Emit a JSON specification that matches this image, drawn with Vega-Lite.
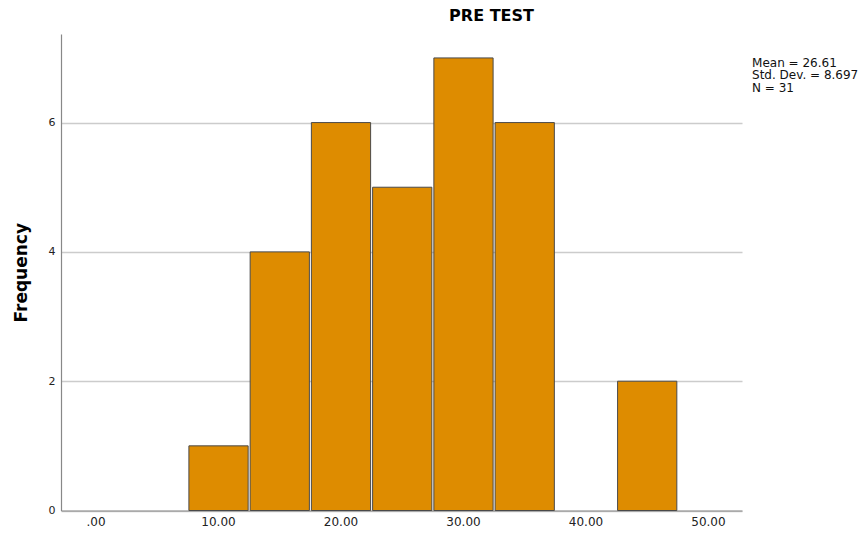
{
  "$schema": "https://vega.github.io/schema/vega-lite/v6.json",
  "width": 681,
  "height": 476.5,
  "autosize": {"type": "none"},
  "padding": {"left": 61, "top": 34, "right": 119, "bottom": 23.5},
  "background": "white",
  "config": {
    "view": {"stroke": null},
    "font": "DejaVu Sans"
  },
  "title": {
    "text": "PRE TEST",
    "fontSize": 16,
    "fontWeight": "bold",
    "font": "DejaVu Sans",
    "color": "#000000",
    "anchor": "middle",
    "dx": 90,
    "offset": 10
  },
  "layer": [
    {
      "data": {
        "values": [
          {"start": 7.5, "end": 12.5, "count": 1},
          {"start": 12.5, "end": 17.5, "count": 4},
          {"start": 17.5, "end": 22.5, "count": 6},
          {"start": 22.5, "end": 27.5, "count": 5},
          {"start": 27.5, "end": 32.5, "count": 7},
          {"start": 32.5, "end": 37.5, "count": 6},
          {"start": 42.5, "end": 47.5, "count": 2}
        ]
      },
      "mark": {"type": "bar", "color": "#DE8C00", "stroke": "#4a4a4a", "strokeWidth": 1, "binSpacing": 2},
      "encoding": {
        "x": {
          "field": "start",
          "type": "quantitative",
          "bin": "binned",
          "scale": {"domain": [-2.82, 52.78], "nice": false, "zero": false},
          "axis": {
            "values": [0, 10, 20, 30, 40, 50],
            "labelExpr": "datum.value == 0 ? '.00' : format(datum.value, '.2f')",
            "title": null,
            "grid": false,
            "ticks": false,
            "labelFontSize": 12,
            "labelColor": "#222222",
            "labelPadding": 6,
            "domainColor": "#888888",
            "domainWidth": 1.2,
            "labelFlush": false
          }
        },
        "x2": {"field": "end"},
        "y": {
          "field": "count",
          "type": "quantitative",
          "scale": {"domain": [0, 7.37], "nice": false},
          "axis": {
            "values": [0, 2, 4, 6],
            "format": "d",
            "title": "Frequency",
            "titleFontSize": 17,
            "titleFontWeight": "bold",
            "titleColor": "#000000",
            "titlePadding": 18,
            "grid": true,
            "gridColor": "#cccccc",
            "gridWidth": 1.3,
            "ticks": false,
            "labelFontSize": 11,
            "labelColor": "#222222",
            "labelPadding": 6,
            "domainColor": "#888888",
            "domainWidth": 1.2
          }
        }
      }
    },
    {
      "data": {
        "values": [
          {"x": 53.6, "y": 7.0, "label": "Mean = 26.61\nStd. Dev. = 8.697\nN = 31"}
        ]
      },
      "mark": {"type": "text", "align": "left", "baseline": "top", "lineBreak": "\n", "lineHeight": 12.5, "fontSize": 12, "color": "#111111", "clip": false},
      "encoding": {
        "x": {"field": "x", "type": "quantitative"},
        "y": {"field": "y", "type": "quantitative"},
        "text": {"field": "label"}
      }
    }
  ]
}
